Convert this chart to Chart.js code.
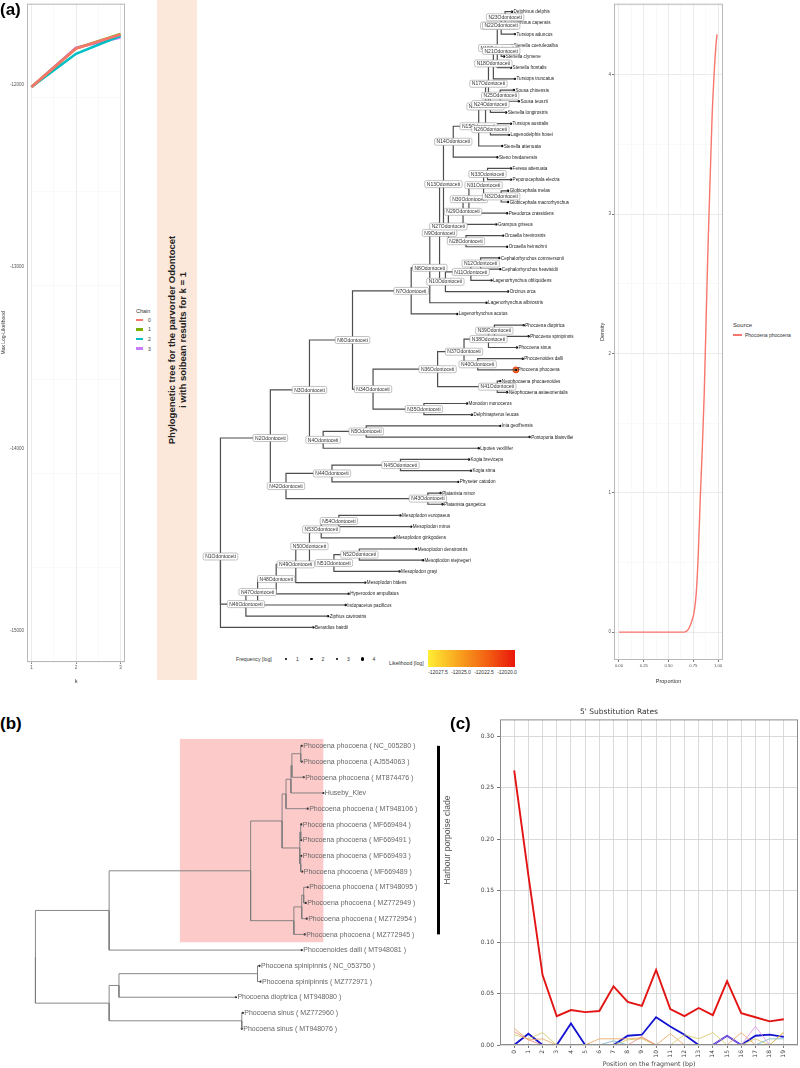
<!DOCTYPE html>
<html>
<head>
<meta charset="utf-8">
<title>Odontoceti phylogeny and 5' substitution rates</title>
<script src="https://cdn.jsdelivr.net/npm/chart.js@4.4.1/dist/chart.umd.min.js"></script>
<style>
  body { margin: 0; background: #fff; }
  #page { position: relative; width: 800px; height: 1068px; overflow: hidden;
          font-family: "Liberation Sans", Arial, sans-serif; color: #333; }
  #page canvas, .abs { position: absolute; }
  .tag { font-weight: bold; font-size: 17px; color: #000; line-height: 20px; }
  #banner { left: 157px; top: 0; width: 40px; height: 680px; background: #fce8db; }
  #banner div { position: absolute; left: 50%; top: 50%; white-space: nowrap;
                transform: translate(-50%, -50%) rotate(-90deg);
                font-weight: bold; font-size: 9.5px; line-height: 11px; text-align: center; color: #222; }
  .tiny { font-size: 5px; color: #333; white-space: nowrap; line-height: 6px; }
</style>
</head>
<body>
<div id="page">
  <canvas id="llChart" width="130" height="685" style="left:0;top:0"></canvas>
  <div class="abs tag" style="left:0;top:0">(a)</div>
  <div id="chainLegend" class="abs" style="left:136px;top:308px"></div>
  <div id="banner" class="abs"><div>Phylogenetic tree for the parvorder Odontocet<br>i with soibean results for k = 1</div></div>
  <canvas id="treeA" width="440" height="640" style="left:200px;top:0"></canvas>
  <div id="freqLegend" class="abs" style="left:236px;top:655px;width:150px;height:10px"></div>
  <div id="likeLegend" class="abs" style="left:385px;top:648px;width:140px;height:30px"></div>
  <canvas id="densChart" width="132" height="685" style="left:598px;top:0"></canvas>
  <div id="densLegend" class="abs" style="left:733px;top:321px"></div>

  <div class="abs tag" style="left:0;top:714px">(b)</div>
  <canvas id="treeB" width="460" height="370" style="left:0;top:690px"></canvas>
  <div class="abs tag" style="left:450px;top:714px">(c)</div>
  <canvas id="subChart" width="360" height="378" style="left:440px;top:690px"></canvas>
</div>

<script>
// ---------- (a) left: max log-likelihood per chain ----------
const kValues = [1, 2, 3];
const chainNames = ['0', '1', '2', '3'];
const chainColors = ['#F8766D', '#7CAE00', '#00BFC4', '#C77CFF'];
const chain0LL = [-12012, -11801, -11724];
const chain1LL = [-12012, -11801, -11721];
const chain2LL = [-12012, -11830, -11731];
const chain3LL = [-12012, -11797, -11741];
const llTicks = [-15000, -14000, -13000, -12000];

// ---------- (a) right: admixture proportion density ----------
const densitySource = 'Phocoena phocoena';
const proportionGrid = [0, 0.1, 0.2, 0.3, 0.4, 0.5, 0.6, 0.66, 0.70, 0.72, 0.74, 0.76,
                        0.78, 0.80, 0.82, 0.84, 0.86, 0.88, 0.90, 0.92, 0.94, 0.96, 0.98, 0.99];
const phocoenaDensity = [0, 0, 0, 0, 0, 0, 0, 0, 0.02, 0.05, 0.09, 0.15,
                         0.28, 0.55, 0.95, 1.3, 1.7, 2.25, 2.8, 3.25, 3.7, 4.0, 4.22, 4.29];

// ---------- (a) tree: [node, parent, depth]; leaves listed top to bottom ----------
const odontoNodes = [
  ['N1', null, 0], ['N2', 'N1', 51], ['N3', 'N2', 91], ['N6', 'N3', 135], ['N7', 'N6', 195],
  ['N8', 'N7', 214], ['N9', 'N8', 224], ['N13', 'N9', 228], ['N14', 'N13', 238], ['N15', 'N14', 264],
  ['N16', 'N15', 271], ['N17', 'N16', 274], ['N18', 'N17', 279], ['N19', 'N18', 283], ['N20', 'N19', 285],
  ['N21', 'N19', 287], ['N22', 'N20', 287], ['N23', 'N22', 291], ['N24', 'N17', 276], ['N25', 'N24', 286],
  ['N26', 'N16', 276], ['N27', 'N13', 233], ['N29', 'N27', 248], ['N30', 'N29', 254], ['N31', 'N30', 269],
  ['N33', 'N31', 273], ['N32', 'N31', 287], ['N28', 'N27', 251], ['N10', 'N9', 230], ['N11', 'N10', 256],
  ['N12', 'N11', 266], ['N34', 'N6', 156], ['N36', 'N34', 222], ['N37', 'N36', 249], ['N38', 'N37', 274],
  ['N39', 'N38', 280], ['N40', 'N37', 263], ['N41', 'N36', 283], ['N35', 'N34', 208], ['N4', 'N3', 105],
  ['N5', 'N4', 149], ['N42', 'N2', 67], ['N44', 'N42', 114], ['N45', 'N44', 184], ['N43', 'N42', 212],
  ['N46', 'N1', 26], ['N47', 'N46', 38], ['N48', 'N47', 57], ['N49', 'N48', 77], ['N50', 'N49', 91],
  ['N53', 'N50', 103], ['N54', 'N53', 121], ['N51', 'N50', 116], ['N52', 'N51', 142]
];
const odontoLeaves = [
  ['Delphinus delphis', 'N23', 298], ['Delphinus capensis', 'N23', 295], ['Tursiops aduncus', 'N22', 301],
  ['Stenella coeruleoalba', 'N21', 298], ['Stenella clymene', 'N21', 290], ['Stenella frontalis', 'N19', 297],
  ['Tursiops truncatus', 'N18', 301], ['Sousa chinensis', 'N25', 300], ['Sousa teuszii', 'N25', 305],
  ['Stenella longirostris', 'N24', 292], ['Tursiops australis', 'N26', 297], ['Lagenodelphis hosei', 'N26', 295],
  ['Stenella attenuata', 'N15', 288], ['Steno bredanensis', 'N14', 283], ['Feresa attenuata', 'N33', 297],
  ['Peponocephala electra', 'N33', 297], ['Globicephala melas', 'N32', 294], ['Globicephala macrorhynchus', 'N32', 294],
  ['Pseudorca crassidens', 'N30', 293], ['Grampus griseus', 'N29', 282], ['Orcaella brevirostris', 'N28', 289],
  ['Orcaella heinsohni', 'N28', 293], ['Cephalorhynchus commersonii', 'N12', 285], ['Cephalorhynchus heavisidii', 'N12', 286],
  ['Lagenorhynchus obliquidens', 'N11', 277], ['Orcinus orca', 'N10', 294], ['Lagenorhynchus albirostris', 'N8', 272],
  ['Lagenorhynchus acutus', 'N7', 242], ['Phocoena dioptrica', 'N39', 310], ['Phocoena spinipinnis', 'N39', 315],
  ['Phocoena sinus', 'N38', 303], ['Phocoenoides dalli', 'N40', 309], ['Phocoena phocoena', 'N40', 302],
  ['Neophocaena phocaenoides', 'N41', 286], ['Neophocaena asiaeorientalis', 'N41', 293], ['Monodon monoceros', 'N35', 252],
  ['Delphinapterus leucas', 'N35', 257], ['Inia geoffrensis', 'N5', 286], ['Pontoporia blainvillei', 'N5', 316],
  ['Lipotes vexillifer', 'N4', 264], ['Kogia breviceps', 'N45', 254], ['Kogia sima', 'N45', 256],
  ['Physeter catodon', 'N44', 243], ['Platanista minor', 'N43', 225], ['Platanista gangetica', 'N43', 227],
  ['Mesoplodon europaeus', 'N54', 184], ['Mesoplodon mirus', 'N54', 195], ['Mesoplodon ginkgodens', 'N53', 178],
  ['Mesoplodon densirostris', 'N52', 200], ['Mesoplodon stejnegeri', 'N52', 207], ['Mesoplodon grayi', 'N51', 183],
  ['Mesoplodon bidens', 'N49', 148], ['Hyperoodon ampullatus', 'N48', 131], ['Indopacetus pacificus', 'N47', 128],
  ['Ziphius cavirostris', 'N46', 110], ['Berardius bairdii', 'N1', 95]
];
const sampledTaxon = 'Phocoena phocoena';
const frequencyLevels = [1, 2, 3, 4];
const likelihoodTicks = ['-12027.5', '-12025.0', '-12022.5', '-12020.0'];

// ---------- (b) tree ----------
const porpoiseNodes = [
  ['R', null, 0], ['A', 'R', 75], ['Cl', 'A', 219], ['D', 'Cl', 251], ['F', 'D', 255], ['H', 'F', 260],
  ['I', 'H', 261], ['J', 'I', 270], ['G', 'D', 269], ['K', 'G', 270], ['L', 'G', 270], ['E', 'Cl', 263],
  ['M', 'E', 271], ['Nn', 'M', 273], ['B', 'R', 75], ['P', 'B', 85], ['Rr', 'P', 226], ['Q', 'B', 210]
];
const porpoiseLeaves = [
  ['Phocoena phocoena ( NC_005280 )', 'J', 271], ['Phocoena phocoena ( AJ554063 )', 'J', 271],
  ['Phocoena phocoena ( MT874476 )', 'I', 273], ['Huseby_Klev', 'H', 293],
  ['Phocoena phocoena ( MT948106 )', 'F', 277], ['Phocoena phocoena ( MF669494 )', 'K', 270.5],
  ['Phocoena phocoena ( MF669491 )', 'K', 270.5], ['Phocoena phocoena ( MF669493 )', 'L', 270.5],
  ['Phocoena phocoena ( MF669489 )', 'L', 271.5], ['Phocoena phocoena ( MT948095 )', 'Nn', 277],
  ['Phocoena phocoena ( MZ772949 )', 'Nn', 275], ['Phocoena phocoena ( MZ772954 )', 'M', 276],
  ['Phocoena phocoena ( MZ772945 )', 'E', 274], ['Phocoenoides dalli ( MT948081 )', 'A', 271],
  ['Phocoena spinipinnis ( NC_053750 )', 'Rr', 228], ['Phocoena spinipinnis ( MZ772971 )', 'Rr', 229],
  ['Phocoena dioptrica ( MT948080 )', 'P', 204], ['Phocoena sinus ( MZ772960 )', 'Q', 211],
  ['Phocoena sinus ( MT948076 )', 'Q', 210]
];
const cladeNode = 'Cl';
const cladeName = 'Harbour porpoise clade';

// ---------- (c) 5' substitution rates ----------
const positions = [0, 1, 2, 3, 4, 5, 6, 7, 8, 9, 10, 11, 12, 13, 14, 15, 16, 17, 18, 19];
const rateCT = [0.267, 0.165, 0.068, 0.028, 0.034, 0.032, 0.033, 0.057, 0.042, 0.038,
                0.073, 0.035, 0.028, 0.036, 0.029, 0.062, 0.031, 0.027, 0.023, 0.025];
const rateGA = [0, 0.011, 0, 0, 0.021, 0, 0, 0, 0.009, 0.010,
                0.027, 0.018, 0.010, 0, 0, 0.009, 0, 0.009, 0.010, 0.008];
const rateOrange = [0.016, 0.005, 0.006, 0, 0, 0, 0.006, 0.006, 0.006, 0.007, 0, 0.011, 0, 0, 0, 0, 0.012, 0, 0, 0.012];
const rateSalmon = [0.013, 0.005, 0, 0, 0, 0, 0, 0, 0, 0.008, 0, 0, 0, 0, 0, 0, 0, 0, 0, 0];
const rateYellow = [0.010, 0.006, 0.012, 0, 0, 0, 0, 0, 0.005, 0.006, 0, 0, 0.010, 0.006, 0.012, 0, 0, 0.006, 0, 0.013];
const rateViolet = [0, 0, 0, 0, 0, 0, 0, 0, 0, 0, 0, 0, 0, 0, 0, 0.009, 0, 0.018, 0, 0];
const rateTeal = [0, 0, 0, 0, 0, 0, 0, 0.004, 0, 0, 0, 0, 0, 0, 0, 0, 0, 0, 0.006, 0.006];

Chart.defaults.font.family = '"Liberation Sans", Arial, sans-serif';
Chart.defaults.animation = false;
Chart.defaults.plugins.legend.display = false;
Chart.defaults.plugins.tooltip.enabled = false;

// box round the plotting panel
const panelBox = {
  id: 'panelBox',
  afterDatasetsDraw(chart, args, o) {
    const { ctx, chartArea: c } = chart;
    ctx.save();
    ctx.strokeStyle = o.color || '#aaa';
    ctx.lineWidth = o.width || 1;
    ctx.strokeRect(c.left + 0.5, c.top + 0.5, c.width - 1, c.height - 1);
    ctx.restore();
  }
};

// y tick labels written next to the axis (used where the axis box is fixed narrow)
const sideTicks = {
  id: 'sideTicks',
  afterDraw(chart, args, o) {
    if (!o.values) return;
    const { ctx, chartArea: c, scales: { y } } = chart;
    ctx.save();
    ctx.font = o.font;
    ctx.fillStyle = o.color;
    ctx.textAlign = 'right';
    ctx.textBaseline = 'middle';
    o.values.forEach(v => ctx.fillText(String(v), c.left - o.offset, y.getPixelForValue(v)));
    ctx.restore();
  }
};

const ggGrid = isMajor => ({
  color: c => isMajor(c.tick.value) ? '#e6e6e6' : '#f2f2f2',
  lineWidth: c => isMajor(c.tick.value) ? 0.8 : 0.5,
  tickColor: c => isMajor(c.tick.value) ? '#555' : 'rgba(0,0,0,0)',
  tickLength: 2
});
const near = (v, step) => Math.abs(v / step - Math.round(v / step)) < 1e-6;

// (a) max log-likelihood chart
const chainLL = [chain0LL, chain1LL, chain2LL, chain3LL];
new Chart(document.getElementById('llChart'), {
  type: 'line',
  data: {
    datasets: chainNames.map((name, i) => ({
      label: name,
      data: kValues.map((k, j) => ({ x: k, y: chainLL[i][j] })),
      borderColor: chainColors[i], borderWidth: 2.6, pointRadius: 0, tension: 0
    }))
  },
  options: {
    responsive: false,
    layout: { padding: { top: 2, right: 5, left: 0, bottom: 0 } },
    plugins: {
      panelBox: { color: '#b8b8b8' },
      sideTicks: { values: llTicks, font: '4.5px "Liberation Sans", Arial', color: '#555', offset: 3 }
    },
    scales: {
      x: {
        type: 'linear', min: 0.9, max: 3.1,
        afterFit: s => { s.height = 23; },
        ticks: { stepSize: 0.5, includeBounds: false, autoSkip: false, maxRotation: 0, padding: 1,
                 font: { size: 4.5 }, color: '#555', callback: v => near(v, 1) ? v : '' },
        grid: ggGrid(v => near(v, 1)), border: { display: false },
        title: { display: true, text: 'k', font: { size: 5.5 }, color: '#333', padding: 0 }
      },
      y: {
        min: -15170, max: -11555,
        afterFit: s => { s.width = 27; },
        ticks: { stepSize: 500, includeBounds: false, autoSkip: false, padding: 1,
                 font: { size: 4.5 }, color: 'rgba(0,0,0,0)', callback: () => '' },
        grid: ggGrid(v => near(v, 1000)), border: { display: false },
        title: { display: true, text: 'Max Log-Likelihood', font: { size: 5 }, color: '#333', padding: { top: 1, bottom: 0 } }
      }
    }
  },
  plugins: [panelBox, sideTicks]
});

document.getElementById('chainLegend').innerHTML =
  '<div class="tiny" style="font-size:5.5px;margin-bottom:1px">Chain</div>' +
  chainNames.map((n, i) =>
    `<div class="tiny" style="height:9.6px;display:flex;align-items:center">` +
    `<span style="display:inline-block;width:7px;height:2.5px;background:${chainColors[i]};margin-right:5px"></span>${n}</div>`
  ).join('');

// tree helpers
function buildTree(nodeRows, leafRows) {
  const nodes = {};
  nodeRows.forEach(([id, parent, depth]) => { nodes[id] = { id, parent, depth, kids: [], leaf: false }; });
  leafRows.forEach(([id, parent, depth], i) => { nodes[id] = { id, parent, depth, kids: [], leaf: true, y: i }; });
  Object.values(nodes).forEach(n => { if (n.parent) nodes[n.parent].kids.push(n); });
  const place = n => {
    if (!n.leaf) n.y = n.kids.reduce((s, k) => s + place(k), 0) / n.kids.length;
    return n.y;
  };
  Object.values(nodes).filter(n => !n.parent).forEach(place);
  return nodes;
}
function branchSets(nodes, color, width) {
  return Object.values(nodes).filter(n => n.parent).map(n => {
    const p = nodes[n.parent];
    return {
      data: [{ x: p.depth, y: p.y }, { x: p.depth, y: n.y }, { x: n.depth, y: n.y }],
      showLine: true, borderColor: color, borderWidth: width, pointRadius: 0, tension: 0,
      borderJoinStyle: 'miter'
    };
  });
}
function leafDescendants(nodes, id) {
  const n = nodes[id];
  return n.leaf ? [n] : n.kids.flatMap(k => leafDescendants(nodes, k.id));
}

const treeText = {
  id: 'treeText',
  afterDatasetsDraw(chart, args, o) {
    const { ctx, scales: { x, y } } = chart;
    const all = Object.values(o.nodes);
    ctx.save();
    ctx.textBaseline = 'middle';
    ctx.textAlign = 'left';
    ctx.font = o.leafFont;
    ctx.fillStyle = o.leafColor;
    all.filter(n => n.leaf).forEach(n => {
      ctx.fillText(n.id, x.getPixelForValue(n.depth) + o.gap, y.getPixelForValue(n.y) + 0.3);
    });
    if (o.suffix) {
      ctx.font = o.boxFont;
      ctx.textAlign = 'center';
      all.filter(n => !n.leaf)
        .sort((a, b) => +a.id.slice(1) - +b.id.slice(1))
        .forEach(n => {
          const label = n.id + o.suffix;
          const cx = x.getPixelForValue(n.depth), cy = y.getPixelForValue(n.y);
          const w = ctx.measureText(label).width + 4, h = 7;
          ctx.beginPath();
          if (ctx.roundRect) ctx.roundRect(cx - w / 2, cy - h / 2, w, h, 1.5);
          else ctx.rect(cx - w / 2, cy - h / 2, w, h);
          ctx.fillStyle = '#fff'; ctx.fill();
          ctx.strokeStyle = '#9a9a9a'; ctx.lineWidth = 0.6; ctx.stroke();
          ctx.fillStyle = '#333';
          ctx.fillText(label, cx, cy + 0.3);
        });
    }
    ctx.restore();
  }
};

// (a) tree
const treeA = buildTree(odontoNodes, odontoLeaves);
const leavesA = Object.values(treeA).filter(n => n.leaf);
new Chart(document.getElementById('treeA'), {
  type: 'scatter',
  data: {
    datasets: [
      ...branchSets(treeA, '#4d4d4d', 1.2),
      { data: leavesA.map(n => ({ x: n.depth, y: n.y })), pointRadius: 1.2, pointBackgroundColor: '#000', pointBorderWidth: 0 },
      { data: leavesA.filter(n => n.id === sampledTaxon).map(n => ({ x: n.depth, y: n.y })),
        pointRadius: 3, pointBackgroundColor: '#f26a1b', pointBorderColor: '#e8301a', pointBorderWidth: 0.8 }
    ]
  },
  options: {
    responsive: false,
    layout: { padding: 0 },
    scales: {
      x: { type: 'linear', display: false, min: -16, max: 424 },
      y: { type: 'linear', display: false, reverse: true, min: -0.616, max: 55.7 }
    },
    plugins: {
      treeText: { nodes: treeA, leafFont: '4.6px "Liberation Sans", Arial', leafColor: '#222', gap: 1.6,
                  suffix: 'Odontoceti', boxFont: '5px "Liberation Sans", Arial' }
    }
  },
  plugins: [treeText]
});

// (a) tree legends
document.getElementById('freqLegend').innerHTML =
  '<span class="abs tiny" style="left:0;top:1px;font-size:5.2px">Frequency [log]</span>' +
  frequencyLevels.map((f, i) => {
    const d = 1.8 + i * 0.45, cx = 50 + i * 25.5;
    return `<span class="abs" style="left:${cx - d / 2}px;top:${4 - d / 2}px;width:${d}px;height:${d}px;border-radius:50%;background:#000"></span>` +
           `<span class="abs tiny" style="left:${cx + 10}px;top:1px">${f}</span>`;
  }).join('');
document.getElementById('likeLegend').innerHTML =
  '<span class="abs tiny" style="left:4px;top:12px;font-size:5.2px">Likelihood [log]</span>' +
  '<span class="abs" style="left:43px;top:2px;width:87px;height:17px;background:linear-gradient(to right,#ffee33,#f9a41e 35%,#f25c12 70%,#e9170c)"></span>' +
  likelihoodTicks.map((t, i) =>
    `<span class="abs tiny" style="left:${53 + i * 23}px;top:21px;transform:translateX(-50%)">${t}</span>`).join('');

// (a) density chart
new Chart(document.getElementById('densChart'), {
  type: 'line',
  data: {
    datasets: [{
      label: densitySource,
      data: proportionGrid.map((p, i) => ({ x: p, y: phocoenaDensity[i] })),
      borderColor: '#F8766D', borderWidth: 1.4, pointRadius: 0, cubicInterpolationMode: 'monotone'
    }]
  },
  options: {
    responsive: false,
    layout: { padding: { top: 2, right: 7, left: 0, bottom: 0 } },
    plugins: { panelBox: { color: '#b8b8b8' } },
    scales: {
      x: {
        type: 'linear', min: -0.05, max: 1.05,
        afterFit: s => { s.height = 25; },
        ticks: { stepSize: 0.125, includeBounds: false, autoSkip: false, maxRotation: 0, padding: 1,
                 font: { size: 4.2 }, color: '#555', callback: v => near(v, 0.25) ? v.toFixed(2) : '' },
        grid: ggGrid(v => near(v, 0.25)), border: { display: false },
        title: { display: true, text: 'Proportion', font: { size: 5.5 }, color: '#333', padding: { top: 1, bottom: 0 } }
      },
      y: {
        min: -0.2, max: 4.51,
        afterFit: s => { s.width = 16; },
        ticks: { stepSize: 0.5, includeBounds: false, autoSkip: false, padding: 1,
                 font: { size: 4.5 }, color: '#555', callback: v => near(v, 1) ? v : '' },
        grid: ggGrid(v => near(v, 1)), border: { display: false },
        title: { display: true, text: 'Density', font: { size: 5.5 }, color: '#333', padding: { top: 1, bottom: 0 } }
      }
    }
  },
  plugins: [panelBox]
});
document.getElementById('densLegend').innerHTML =
  '<div class="tiny" style="font-size:6px;line-height:8px">Source</div>' +
  '<div class="tiny" style="display:flex;align-items:center;margin-top:3px;font-size:5px">' +
  '<span style="display:inline-block;width:9px;height:1.4px;background:#F8766D;margin-right:3px"></span>' + densitySource + '</div>';

// (b) porpoise tree
const treeB = buildTree(porpoiseNodes, porpoiseLeaves);
const leavesB = Object.values(treeB).filter(n => n.leaf);
const cladeHighlight = {
  id: 'cladeHighlight',
  beforeDatasetsDraw(chart, args, o) {
    const { ctx, scales: { x, y } } = chart;
    const node = o.nodes[o.node], parent = o.nodes[node.parent];
    const kids = leafDescendants(o.nodes, o.node);
    const yMin = Math.min(...kids.map(k => k.y)), yMax = Math.max(...kids.map(k => k.y));
    const x0 = x.getPixelForValue((parent.depth + node.depth) / 2);
    const x1 = x.getPixelForValue(Math.max(...kids.map(k => k.depth)));
    const y0 = y.getPixelForValue(yMin - 0.44), y1 = y.getPixelForValue(yMax + 0.5);
    ctx.save();
    ctx.fillStyle = o.color;
    ctx.fillRect(x0, y0, x1 - x0, y1 - y0);
    ctx.restore();
  },
  afterDraw(chart, args, o) {
    const { ctx, scales: { y } } = chart;
    const kids = leafDescendants(o.nodes, o.node);
    const yTop = y.getPixelForValue(Math.min(...kids.map(k => k.y)));
    const yBot = y.getPixelForValue(Math.max(...kids.map(k => k.y)));
    ctx.save();
    ctx.fillStyle = '#000';
    ctx.fillRect(o.barX, yTop, 3, yBot - yTop);
    ctx.translate(o.barX + 11, (yTop + yBot) / 2);
    ctx.rotate(-Math.PI / 2);
    ctx.font = '8.6px "Liberation Sans", Arial';
    ctx.fillStyle = '#555';
    ctx.textAlign = 'center';
    ctx.textBaseline = 'middle';
    ctx.fillText(o.label, 0, 0);
    ctx.restore();
  }
};
new Chart(document.getElementById('treeB'), {
  type: 'scatter',
  data: {
    datasets: [
      ...branchSets(treeB, '#7a7a7a', 0.9),
      { data: leavesB.map(n => ({ x: n.depth, y: n.y })), pointRadius: 1.1, pointBackgroundColor: '#111', pointBorderWidth: 0 }
    ]
  },
  options: {
    responsive: false,
    layout: { padding: 0 },
    scales: {
      x: { type: 'linear', display: false, min: -32, max: 428 },
      y: { type: 'linear', display: false, reverse: true, min: -3.30, max: 19.74 }
    },
    plugins: {
      treeText: { nodes: treeB, leafFont: '7px "Liberation Sans", Arial', leafColor: '#666', gap: 1.5 },
      cladeHighlight: { nodes: treeB, node: cladeNode, color: '#fdcaca', barX: 437, label: cladeName }
    }
  },
  plugins: [cladeHighlight, treeText]
});

// (c) substitution rates
const thin = (data, color) => ({
  data: positions.map((p, i) => ({ x: p, y: data[i] })),
  borderColor: color, borderWidth: 0.8, pointRadius: 0, tension: 0
});
new Chart(document.getElementById('subChart'), {
  type: 'line',
  data: {
    datasets: [
      thin(rateTeal, '#6fb3c8'),
      thin(rateViolet, '#e08ce6'),
      thin(rateSalmon, '#f08878'),
      thin(rateYellow, '#d6c663'),
      thin(rateOrange, '#e8a25a'),
      { data: positions.map((p, i) => ({ x: p, y: rateGA[i] })), borderColor: '#1414d2', borderWidth: 1.8, pointRadius: 0, tension: 0 },
      { data: positions.map((p, i) => ({ x: p, y: rateCT[i] })), borderColor: '#e31414', borderWidth: 1.9, pointRadius: 0, tension: 0 }
    ]
  },
  options: {
    responsive: false,
    layout: { padding: { top: 0, right: 2, left: 0, bottom: 0 } },
    plugins: {
      panelBox: { color: '#8c8c8c', width: 1 },
      title: { display: true, text: "5' Substitution Rates", color: '#333',
               font: { size: 7.5, family: '"DejaVu Sans", sans-serif', weight: 'normal' }, padding: { top: 18, bottom: 2.4 } }
    },
    scales: {
      x: {
        type: 'linear', min: -1, max: 20,
        afterBuildTicks: s => { s.ticks = s.ticks.filter(t => t.value >= 0 && t.value <= 19); },
        afterFit: s => { s.height = 23; },
        ticks: { stepSize: 1, autoSkip: false, minRotation: 90, maxRotation: 90, padding: 2,
                 font: { size: 6, family: '"DejaVu Sans", sans-serif' }, color: '#444' },
        grid: { color: '#d0d0d0', lineWidth: 0.8, tickLength: 3, tickColor: '#555' },
        border: { display: false },
        title: { display: true, text: 'Position on the fragment (bp)', color: '#444',
                 font: { size: 6.3, family: '"DejaVu Sans", sans-serif' }, padding: { top: 0, bottom: 0 } }
      },
      y: {
        min: 0, max: 0.3165,
        afterFit: s => { s.width = 60; },
        ticks: { stepSize: 0.05, includeBounds: false, autoSkip: false, padding: 3,
                 font: { size: 6, family: '"DejaVu Sans", sans-serif' }, color: '#444', callback: v => v.toFixed(2) },
        grid: { color: '#d0d0d0', lineWidth: 0.8, tickLength: 3, tickColor: '#555' },
        border: { display: false }
      }
    }
  },
  plugins: [panelBox]
});
</script>
</body>
</html>
